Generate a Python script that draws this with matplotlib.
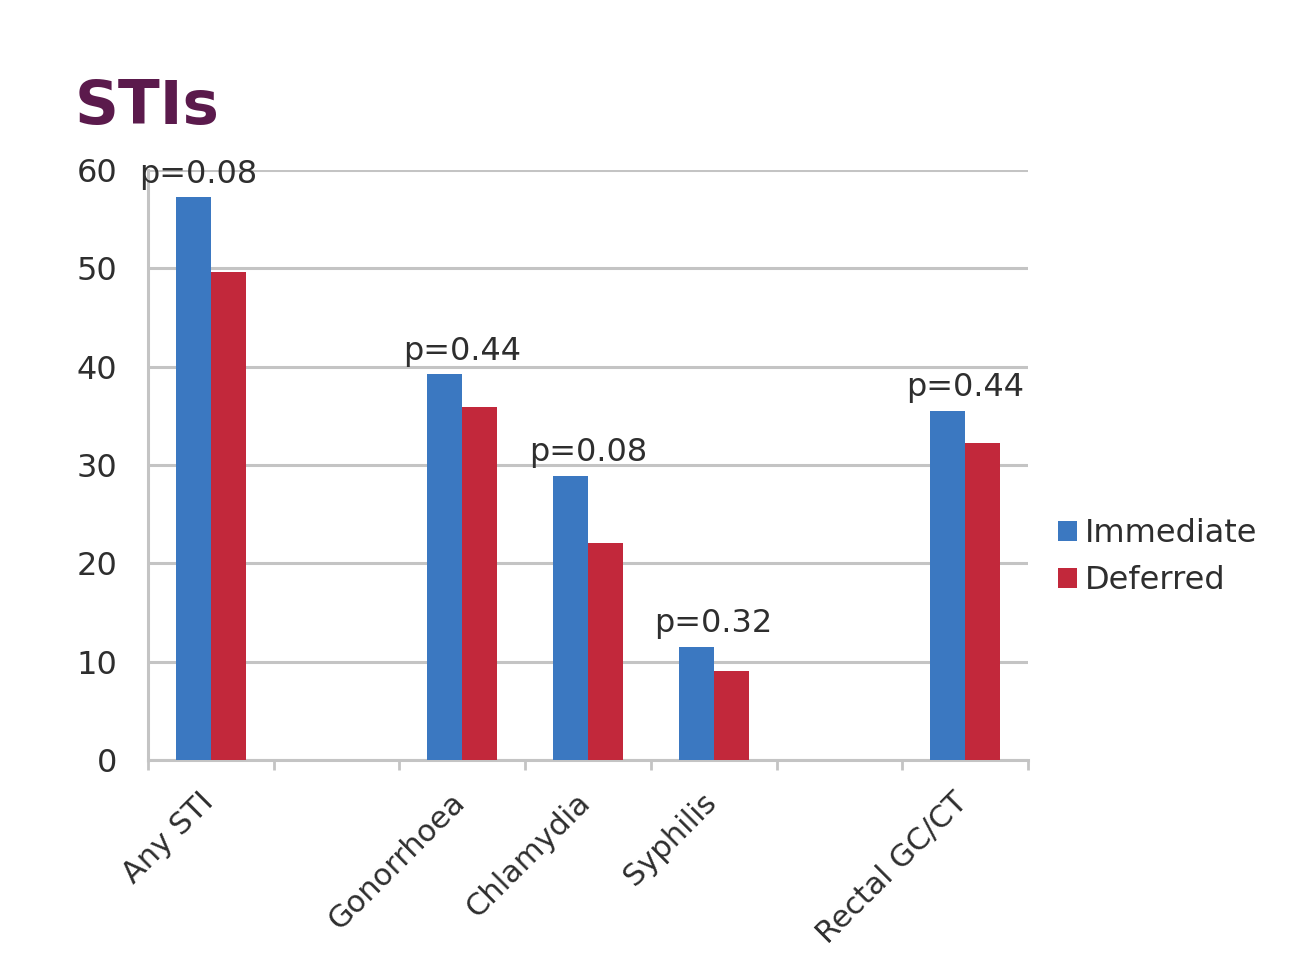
import numpy as np
import matplotlib.pyplot as plt
from matplotlib.ticker import FixedLocator

# categories (two empty slots as in the original layout)
categories = ["Any STI", "", "Gonorrhoea", "Chlamydia", "Syphilis", "", "Rectal GC/CT"]
immediate = [57.2, np.nan, 39.2, 28.9, 11.5, np.nan, 35.5]
deferred = [49.6, np.nan, 35.9, 22.1, 9.0, np.nan, 32.2]
p_labels = ["p=0.08", "", "p=0.44", "p=0.08", "p=0.32", "", "p=0.44"]
series_names = ["Immediate", "Deferred"]

BLUE = "#3b78c1"
RED = "#c2283b"
GRID = "#c4c4c4"
TEXT = "#2e2e2e"

plt.rcParams["font.family"] = ["DejaVu Sans"]

fig = plt.figure(figsize=(12.91, 9.66), dpi=100)
ax = fig.add_axes([0.1146, 0.2133, 0.6817, 0.6108])

x = np.arange(len(categories))
w = 0.28
ax.bar(x - w / 2, immediate, w, color=BLUE, label=series_names[0], zorder=3)
ax.bar(x + w / 2, deferred, w, color=RED, label=series_names[1], zorder=3)

for xi, v, lab in zip(x, immediate, p_labels):
    if lab:
        # first label sits a bit left in the original
        dx = -0.1 if xi == 0 else 0.0
        ax.text(xi + dx, v + 0.8, lab, ha="center", va="bottom", fontsize=23,
                color=TEXT, zorder=4)

ax.set_xlim(-0.5, len(categories) - 0.5)
ax.set_ylim(0, 60)
ax.set_yticks(range(0, 61, 10))
ax.yaxis.grid(True, color=GRID, linewidth=2.2, zorder=0)
ax.set_axisbelow(True)

# label anchors sit slightly left of the slot centre (ticks themselves hidden)
ax.set_xticks(x - 0.1)
ax.set_xticklabels(categories, rotation=45, ha="right", rotation_mode="anchor",
                   fontsize=22, color=TEXT)
ax.tick_params(axis="x", which="major", length=0, pad=20)
ax.xaxis.set_minor_locator(FixedLocator(np.arange(-0.5, len(categories), 1.0)))
ax.tick_params(axis="x", which="minor", length=7, width=2, color=GRID)
ax.tick_params(axis="y", length=0, pad=22, labelsize=23, labelcolor=TEXT)

for s in ["top", "right"]:
    ax.spines[s].set_visible(False)
for s in ["left", "bottom"]:
    ax.spines[s].set_color(GRID)
    ax.spines[s].set_linewidth(2.2)

fig.text(0.058, 0.872, "STIs", fontsize=44, fontweight="bold", color="#5b1a4c")

fig.legend(loc="center left", bbox_to_anchor=(0.797, 0.423), frameon=False,
           fontsize=23, handlelength=0.6, handleheight=0.6, handletextpad=0.25,
           labelspacing=0.5, labelcolor=TEXT)

fig.savefig("out.png", dpi=100, facecolor="white")
